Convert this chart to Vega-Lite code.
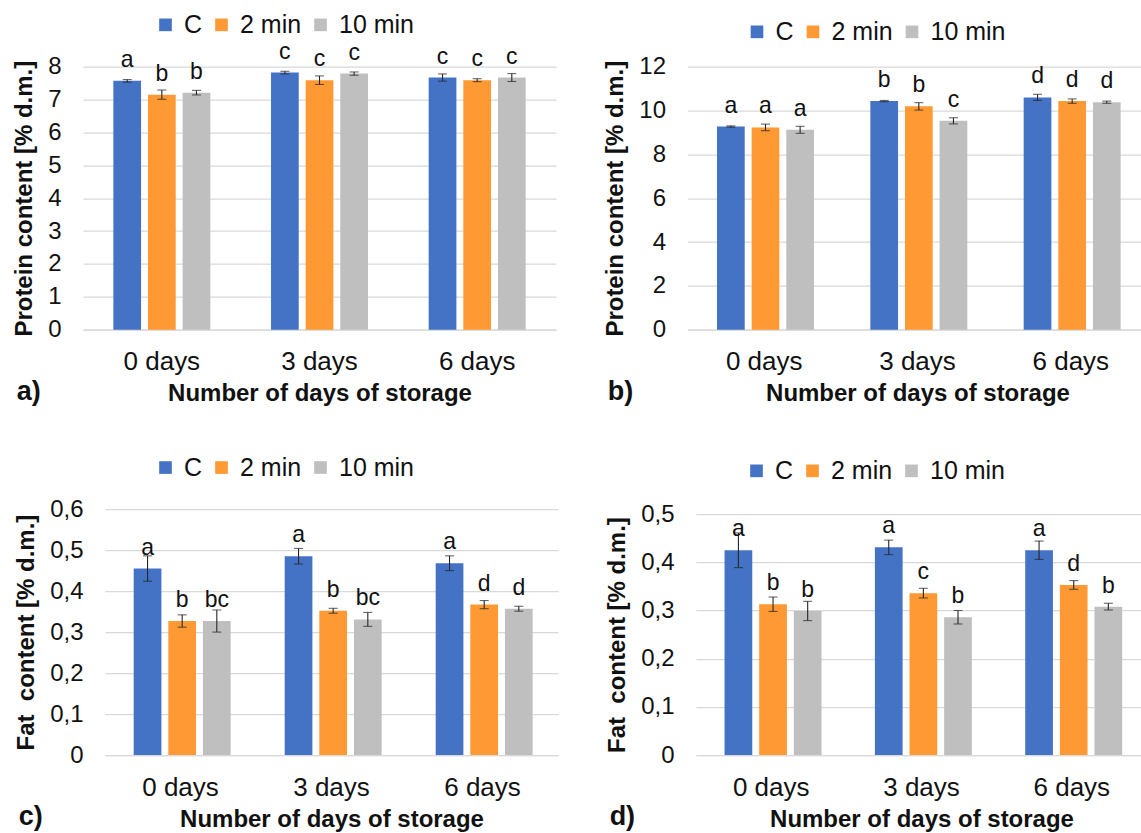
{
  "$schema": "https://vega.github.io/schema/vega-lite/v6.json",
  "background": "white",
  "padding": {"left": 12, "top": 11.7, "right": 0, "bottom": 0},
  "datasets": {
    "a": [
      {"day": "0 days", "group": "C", "value": 7.57, "err": 0.04, "letter": "a"},
      {"day": "0 days", "group": "2 min", "value": 7.15, "err": 0.14, "letter": "b"},
      {"day": "0 days", "group": "10 min", "value": 7.21, "err": 0.07, "letter": "b"},
      {"day": "3 days", "group": "C", "value": 7.82, "err": 0.04, "letter": "c"},
      {"day": "3 days", "group": "2 min", "value": 7.59, "err": 0.13, "letter": "c"},
      {"day": "3 days", "group": "10 min", "value": 7.79, "err": 0.05, "letter": "c"},
      {"day": "6 days", "group": "C", "value": 7.67, "err": 0.11, "letter": "c"},
      {"day": "6 days", "group": "2 min", "value": 7.59, "err": 0.045, "letter": "c"},
      {"day": "6 days", "group": "10 min", "value": 7.67, "err": 0.12, "letter": "c"}
    ],
    "b": [
      {"day": "0 days", "group": "C", "value": 9.27, "err": 0.03, "letter": "a"},
      {"day": "0 days", "group": "2 min", "value": 9.23, "err": 0.15, "letter": "a"},
      {"day": "0 days", "group": "10 min", "value": 9.12, "err": 0.16, "letter": "a"},
      {"day": "3 days", "group": "C", "value": 10.43, "err": 0.03, "letter": "b"},
      {"day": "3 days", "group": "2 min", "value": 10.19, "err": 0.17, "letter": "b"},
      {"day": "3 days", "group": "10 min", "value": 9.53, "err": 0.14, "letter": "c"},
      {"day": "6 days", "group": "C", "value": 10.6, "err": 0.14, "letter": "d"},
      {"day": "6 days", "group": "2 min", "value": 10.43, "err": 0.1, "letter": "d"},
      {"day": "6 days", "group": "10 min", "value": 10.38, "err": 0.05, "letter": "d"}
    ],
    "c": [
      {"day": "0 days", "group": "C", "value": 0.455, "err": 0.031, "letter": "a"},
      {"day": "0 days", "group": "2 min", "value": 0.327, "err": 0.015, "letter": "b"},
      {"day": "0 days", "group": "10 min", "value": 0.327, "err": 0.027, "letter": "bc"},
      {"day": "3 days", "group": "C", "value": 0.485, "err": 0.019, "letter": "a"},
      {"day": "3 days", "group": "2 min", "value": 0.352, "err": 0.006, "letter": "b"},
      {"day": "3 days", "group": "10 min", "value": 0.331, "err": 0.017, "letter": "bc"},
      {"day": "6 days", "group": "C", "value": 0.468, "err": 0.018, "letter": "a"},
      {"day": "6 days", "group": "2 min", "value": 0.367, "err": 0.01, "letter": "d"},
      {"day": "6 days", "group": "10 min", "value": 0.357, "err": 0.006, "letter": "d"}
    ],
    "d": [
      {"day": "0 days", "group": "C", "value": 0.425, "err": 0.036, "letter": "a"},
      {"day": "0 days", "group": "2 min", "value": 0.313, "err": 0.015, "letter": "b"},
      {"day": "0 days", "group": "10 min", "value": 0.299, "err": 0.02, "letter": "b"},
      {"day": "3 days", "group": "C", "value": 0.431, "err": 0.015, "letter": "a"},
      {"day": "3 days", "group": "2 min", "value": 0.336, "err": 0.01, "letter": "c"},
      {"day": "3 days", "group": "10 min", "value": 0.286, "err": 0.014, "letter": "b"},
      {"day": "6 days", "group": "C", "value": 0.425, "err": 0.019, "letter": "a"},
      {"day": "6 days", "group": "2 min", "value": 0.353, "err": 0.009, "letter": "d"},
      {"day": "6 days", "group": "10 min", "value": 0.308, "err": 0.007, "letter": "b"}
    ]
  },
  "spacing": 48.4,
  "resolve": {"scale": {"color": "independent", "y": "independent", "x": "independent"}, "legend": {"color": "independent"}},
  "vconcat": [
    {
      "bounds": "flush",
      "spacing": 131.5,
      "resolve": {"scale": {"color": "independent", "y": "independent", "x": "independent"}, "legend": {"color": "independent"}},
      "hconcat": [
        {
          "width": 473, "height": 263,
          "data": {"name": "a"},
          "title": {"text": "a)"},
          "encoding": {
            "x": {"field": "day", "type": "nominal", "sort": ["0 days", "3 days", "6 days"], "scale": {"paddingInner": 0.385, "paddingOuter": 0.1925}, "axis": {"title": "Number of days of storage"}},
            "xOffset": {"field": "group", "type": "nominal", "sort": ["C", "2 min", "10 min"], "scale": {"paddingInner": 0.2, "paddingOuter": 0}},
            "y": {"field": "value", "type": "quantitative", "scale": {"domain": [0, 8], "nice": false}, "axis": {"values": [0, 1, 2, 3, 4, 5, 6, 7, 8], "format": "d", "title": "Protein content [% d.m.]"}}
          },
          "layer": [
            {"mark": {"type": "bar"}, "encoding": {"color": {"field": "group", "type": "nominal", "sort": ["C", "2 min", "10 min"], "scale": {"domain": ["C", "2 min", "10 min"], "range": ["#4472C4", "#FF9933", "#BFBFBF"]}, "legend": {"title": null, "legendX": 70, "legendY": -54.6}}}},
            {"mark": {"type": "errorbar", "ticks": {"color": "#262626"}, "rule": {"color": "#262626"}, "size": 9, "thickness": 1.1}, "encoding": {"yError": {"field": "err"}}},
            {"mark": {"type": "text", "dy": -14, "baseline": "alphabetic", "fontSize": 23, "font": "Liberation Sans", "color": "#111111"}, "encoding": {"text": {"field": "letter"}}}
          ]
        },
        {
          "width": 452, "height": 263,
          "data": {"name": "b"},
          "title": {"text": "b)"},
          "encoding": {
            "x": {"field": "day", "type": "nominal", "sort": ["0 days", "3 days", "6 days"], "scale": {"paddingInner": 0.385, "paddingOuter": 0.1925, "range": [0, 460]}, "axis": {"title": "Number of days of storage"}},
            "xOffset": {"field": "group", "type": "nominal", "sort": ["C", "2 min", "10 min"], "scale": {"paddingInner": 0.2, "paddingOuter": 0}},
            "y": {"field": "value", "type": "quantitative", "scale": {"domain": [0, 12], "nice": false}, "axis": {"values": [0, 2, 4, 6, 8, 10, 12], "format": "d", "title": "Protein content [% d.m.]"}}
          },
          "layer": [
            {"mark": {"type": "bar"}, "encoding": {"color": {"field": "group", "type": "nominal", "sort": ["C", "2 min", "10 min"], "scale": {"domain": ["C", "2 min", "10 min"], "range": ["#4472C4", "#FF9933", "#BFBFBF"]}, "legend": {"title": null, "legendX": 57, "legendY": -47.6}}}},
            {"mark": {"type": "errorbar", "ticks": {"color": "#262626"}, "rule": {"color": "#262626"}, "size": 9, "thickness": 1.1}, "encoding": {"yError": {"field": "err"}}},
            {"mark": {"type": "text", "dy": -14, "baseline": "alphabetic", "fontSize": 23, "font": "Liberation Sans", "color": "#111111"}, "encoding": {"text": {"field": "letter"}}}
          ]
        }
      ]
    },
    {
      "bounds": "flush",
      "spacing": 0,
      "resolve": {"scale": {"color": "independent", "y": "independent", "x": "independent"}, "legend": {"color": "independent"}},
      "hconcat": [
        {
          "width": 21.7, "height": 246,
          "data": {"values": []},
          "mark": {"type": "point", "opacity": 0},
          "encoding": {}
        },
        {
          "width": 453, "height": 246,
          "data": {"name": "c"},
          "title": {"text": "c)"},
          "encoding": {
            "x": {"field": "day", "type": "nominal", "sort": ["0 days", "3 days", "6 days"], "scale": {"paddingInner": 0.38, "paddingOuter": 0.19}, "axis": {"title": "Number of days of storage"}},
            "xOffset": {"field": "group", "type": "nominal", "sort": ["C", "2 min", "10 min"], "scale": {"paddingInner": 0.2, "paddingOuter": 0}},
            "y": {"field": "value", "type": "quantitative", "scale": {"domain": [0, 0.6], "nice": false}, "axis": {"values": [0, 0.1, 0.2, 0.3, 0.4, 0.5, 0.6], "labelExpr": "replace(format(datum.value, '.1~f'), '.', ',')", "title": "Fat\u00a0 content [% d.m.]"}}
          },
          "layer": [
            {"mark": {"type": "bar"}, "encoding": {"color": {"field": "group", "type": "nominal", "sort": ["C", "2 min", "10 min"], "scale": {"domain": ["C", "2 min", "10 min"], "range": ["#4472C4", "#FF9933", "#BFBFBF"]}, "legend": {"title": null, "legendX": 48, "legendY": -54.3}}}},
            {"mark": {"type": "errorbar", "ticks": {"color": "#262626"}, "rule": {"color": "#262626"}, "size": 9, "thickness": 1.1}, "encoding": {"yError": {"field": "err"}}},
            {"mark": {"type": "text", "dy": -14, "baseline": "alphabetic", "fontSize": 23, "font": "Liberation Sans", "color": "#111111"}, "encoding": {"text": {"field": "letter"}}}
          ]
        },
        {
          "width": 138, "height": 246,
          "data": {"values": []},
          "mark": {"type": "point", "opacity": 0},
          "encoding": {}
        },
        {
          "width": 445, "height": 246,
          "data": {"name": "d"},
          "title": {"text": "d)"},
          "encoding": {
            "x": {"field": "day", "type": "nominal", "sort": ["0 days", "3 days", "6 days"], "scale": {"paddingInner": 0.38, "paddingOuter": 0.19, "range": [0, 451]}, "axis": {"title": "Number of days of storage"}},
            "xOffset": {"field": "group", "type": "nominal", "sort": ["C", "2 min", "10 min"], "scale": {"paddingInner": 0.2, "paddingOuter": 0}},
            "y": {"field": "value", "type": "quantitative", "scale": {"domain": [0, 0.5], "nice": false, "range": [246, 5]}, "axis": {"values": [0, 0.1, 0.2, 0.3, 0.4, 0.5], "labelExpr": "replace(format(datum.value, '.1~f'), '.', ',')", "title": "Fat\u00a0 content [% d.m.]"}}
          },
          "layer": [
            {"mark": {"type": "bar"}, "encoding": {"color": {"field": "group", "type": "nominal", "sort": ["C", "2 min", "10 min"], "scale": {"domain": ["C", "2 min", "10 min"], "range": ["#4472C4", "#FF9933", "#BFBFBF"]}, "legend": {"title": null, "legendX": 48, "legendY": -51}}}},
            {"mark": {"type": "errorbar", "ticks": {"color": "#262626"}, "rule": {"color": "#262626"}, "size": 9, "thickness": 1.1}, "encoding": {"yError": {"field": "err"}}},
            {"mark": {"type": "text", "dy": -14, "baseline": "alphabetic", "fontSize": 23, "font": "Liberation Sans", "color": "#111111"}, "encoding": {"text": {"field": "letter"}}}
          ]
        }
      ]
    }
  ],
  "config": {
    "view": {"stroke": null},
    "font": "Liberation Sans",
    "title": {"orient": "bottom", "anchor": "start", "frame": "bounds", "offset": -27, "baseline": "top", "fontSize": 27, "fontWeight": "bold", "font": "Liberation Sans", "color": "#111111", "dx": 4},
    "axis": {"labelFont": "Liberation Sans", "titleFont": "Liberation Sans", "labelColor": "#111111", "titleColor": "#111111", "ticks": false, "titleFontWeight": "bold"},
    "axisX": {"labelFontSize": 26, "titleFontSize": 24, "labelPadding": 19, "titlePadding": 7, "labelAngle": 0, "grid": false, "domain": true, "domainColor": "#D9D9D9", "domainWidth": 1.3},
    "axisY": {"labelFontSize": 24, "titleFontSize": 24, "labelPadding": 22, "titlePadding": 11, "grid": true, "gridColor": "#D9D9D9", "gridWidth": 1.3, "domain": false},
    "legend": {"orient": "none", "direction": "horizontal", "symbolType": "square", "symbolSize": 160, "symbolStrokeWidth": 0, "labelFontSize": 25, "labelFont": "Liberation Sans", "labelColor": "#111111", "columnPadding": 6, "labelOffset": 6}
  }
}
